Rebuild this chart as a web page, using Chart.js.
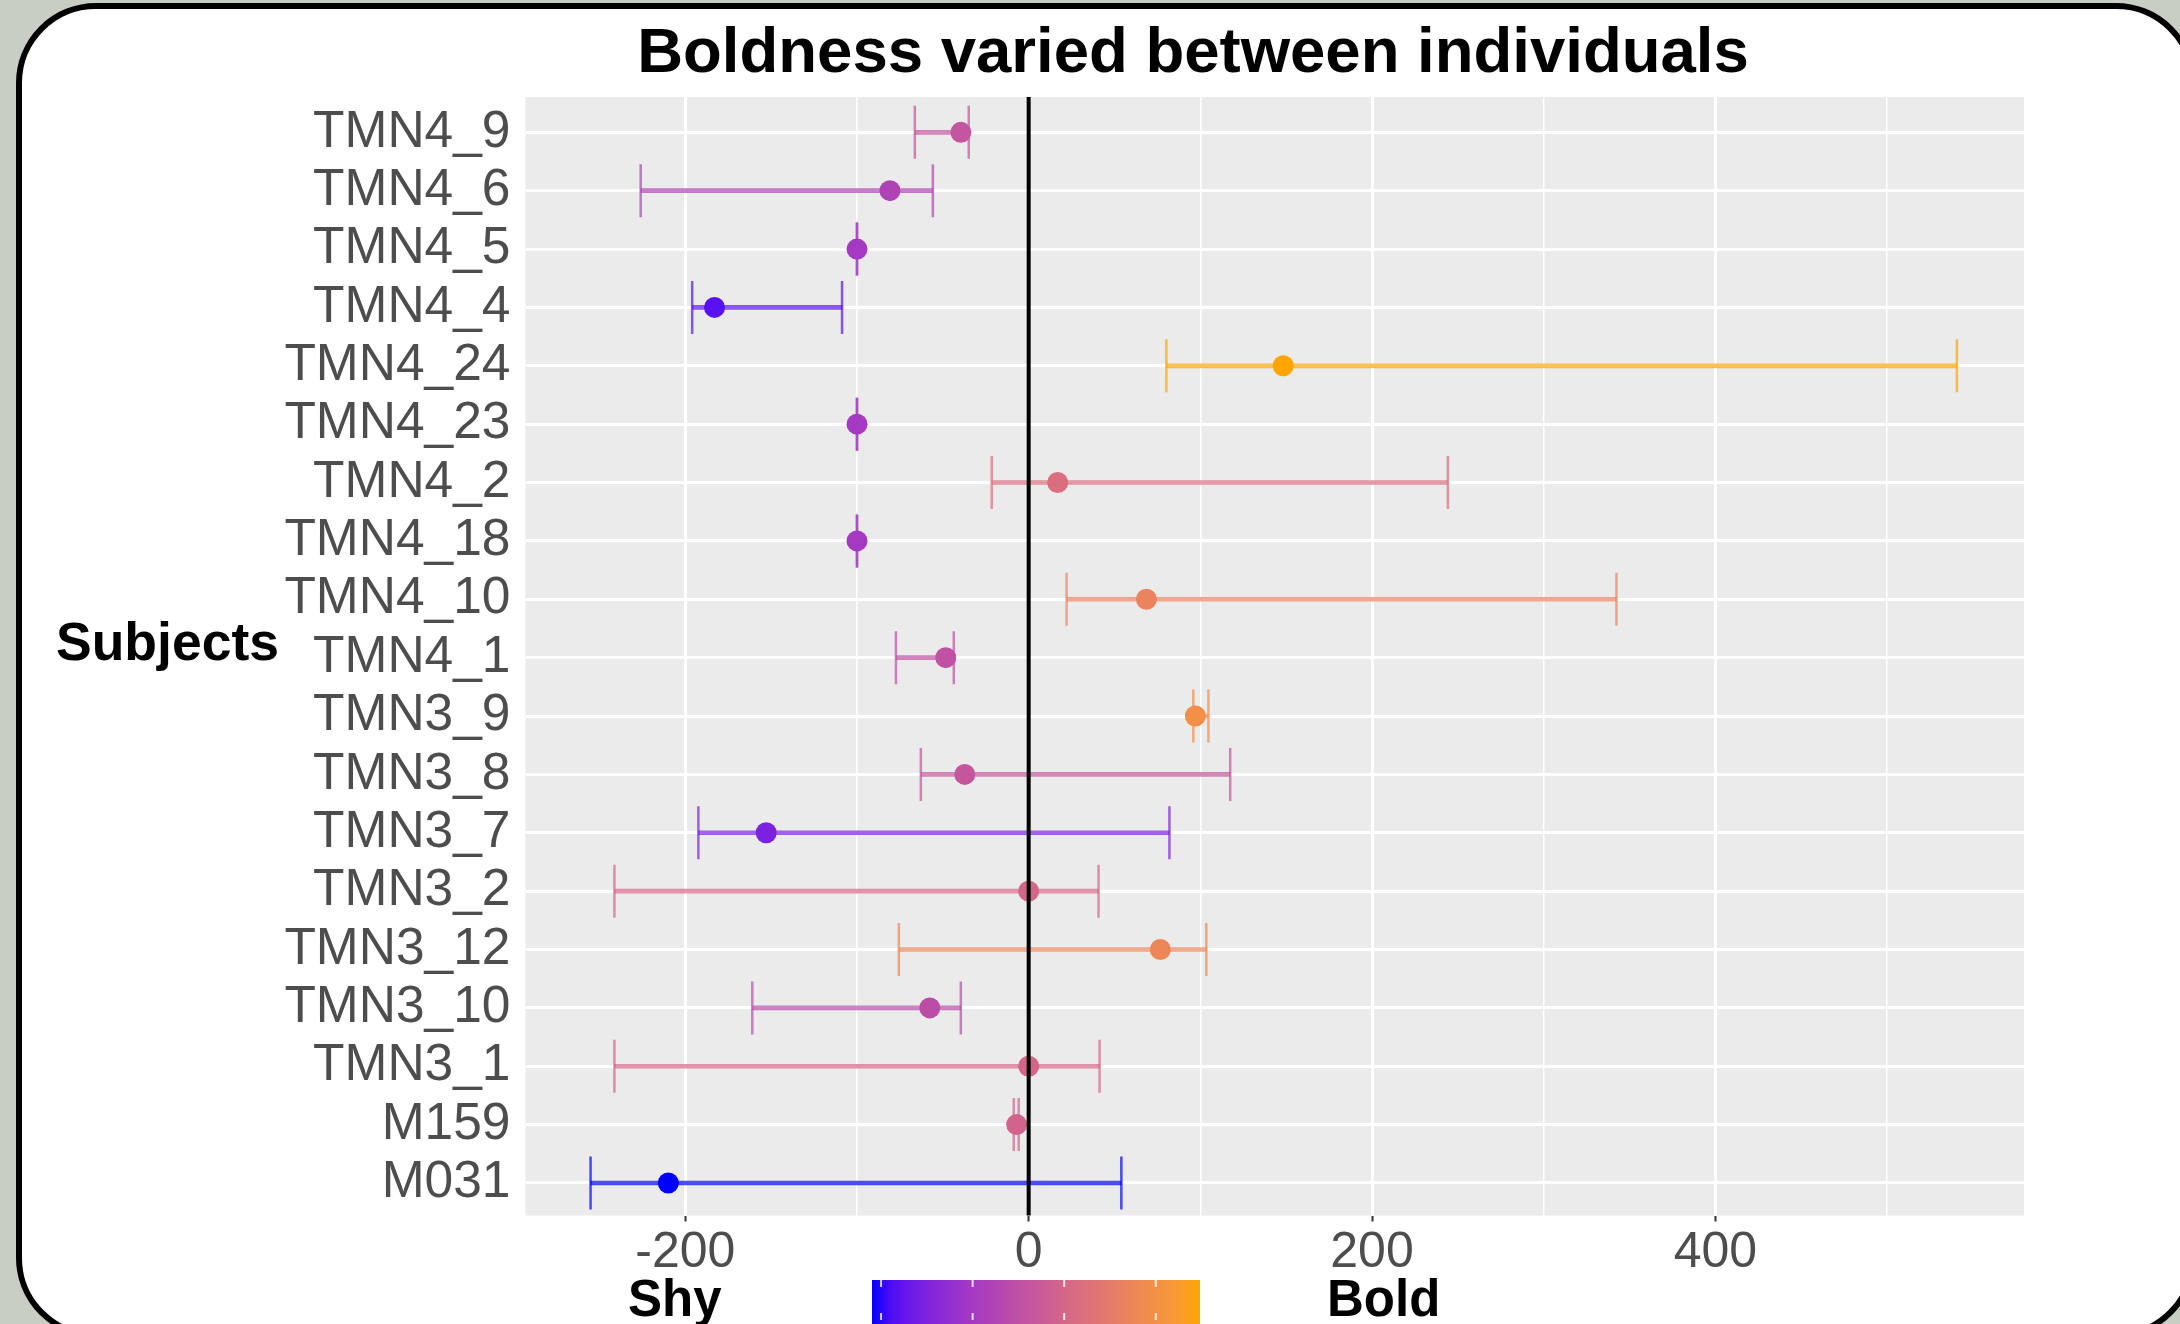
<!DOCTYPE html>
<html>
<head>
<meta charset="utf-8">
<script src="https://cdn.jsdelivr.net/npm/chart.js@4.4.1/dist/chart.umd.min.js"></script>
<style>
  html, body { margin: 0; padding: 0; }
  body { width: 2180px; height: 1324px; overflow: hidden; background: #c9cec5; position: relative; }
  #frame {
    position: absolute; left: 16px; top: 3px; width: 2180px; height: 1335px;
    box-sizing: border-box; background: #fff; border: 6px solid #000; border-radius: 80px;
  }
  #chart { position: absolute; left: 0; top: 0; }
</style>
</head>
<body>
<div id="frame"></div>
<canvas id="chart" width="2180" height="1324"></canvas>
<script>
// subjects, top to bottom
const subjects = ['TMN4_9', 'TMN4_6', 'TMN4_5', 'TMN4_4', 'TMN4_24', 'TMN4_23', 'TMN4_2', 'TMN4_18',
  'TMN4_10', 'TMN4_1', 'TMN3_9', 'TMN3_8', 'TMN3_7', 'TMN3_2', 'TMN3_12', 'TMN3_10', 'TMN3_1', 'M159', 'M031'];
const means = [-39.5, -80.8, -100, -183, 148.3, -100, 16.9, -100, 68.6, -48.3, 97.1, -37.2, -152.9, 0, 76.7, -57.6, 0, -7, -209.9];
const lower = [-66.3, -226, -100, -196, 80.2, -100, -21.5, -100, 22.1, -77.3, 95.9, -62.8, -192.4, -241.3, -75.6, -161, -241.3, -8.7, -255.2];
const upper = [-34.9, -55.8, -100, -108.7, 540.7, -100, 244.2, -100, 342.4, -43.6, 104.7, 117.4, 82, 40.7, 103.5, -39.5, 41.3, -5.8, 54];
const majorTicks = [-200, 0, 200, 400];
const minorTicks = [-100, 100, 300, 500];
const legendTicks = [-200, -100, 0, 100];

const FONT = "'Liberation Sans', Arial, sans-serif";

// --- colour ramp blue -> orange, interpolated in CIELAB like ggplot ---
function toLin(c) { c /= 255; return c <= 0.04045 ? c / 12.92 : Math.pow((c + 0.055) / 1.055, 2.4); }
function fromLin(c) {
  c = c <= 0.0031308 ? 12.92 * c : 1.055 * Math.pow(c, 1 / 2.4) - 0.055;
  return Math.round(Math.min(1, Math.max(0, c)) * 255);
}
function rgbToLab(rgb) {
  const r = toLin(rgb[0]), g = toLin(rgb[1]), b = toLin(rgb[2]);
  const X = (0.4124 * r + 0.3576 * g + 0.1805 * b) / 0.95047;
  const Y = 0.2126 * r + 0.7152 * g + 0.0722 * b;
  const Z = (0.0193 * r + 0.1192 * g + 0.9505 * b) / 1.08883;
  const f = t => t > 0.008856 ? Math.cbrt(t) : 7.787 * t + 16 / 116;
  const fx = f(X), fy = f(Y), fz = f(Z);
  return [116 * fy - 16, 500 * (fx - fy), 200 * (fy - fz)];
}
function labToRgb(lab) {
  const fy = (lab[0] + 16) / 116, fx = fy + lab[1] / 500, fz = fy - lab[2] / 200;
  const inv = t => t * t * t > 0.008856 ? t * t * t : (t - 16 / 116) / 7.787;
  const X = inv(fx) * 0.95047, Y = inv(fy), Z = inv(fz) * 1.08883;
  return [
    fromLin(3.2406 * X - 1.5372 * Y - 0.4986 * Z),
    fromLin(-0.9689 * X + 1.8758 * Y + 0.0415 * Z),
    fromLin(0.0557 * X - 0.2040 * Y + 1.0570 * Z)
  ];
}
const lowLab = rgbToLab([0, 0, 255]);
const highLab = rgbToLab([255, 165, 0]);
const cMin = Math.min(...means), cMax = Math.max(...means);
function rampColor(v, alpha) {
  const t = Math.min(1, Math.max(0, (v - cMin) / (cMax - cMin)));
  const rgb = labToRgb(lowLab.map((l, i) => l + (highLab[i] - l) * t));
  return 'rgba(' + rgb[0] + ',' + rgb[1] + ',' + rgb[2] + ',' + (alpha === undefined ? 1 : alpha) + ')';
}

const pointColors = means.map(v => rampColor(v));
const lineColors = means.map(v => rampColor(v, 0.7));

const decor = {
  id: 'decor',
  beforeDraw(chart) {
    const { ctx, chartArea: a } = chart;
    ctx.save();
    ctx.fillStyle = '#ebebeb';
    ctx.fillRect(a.left, a.top, a.right - a.left, a.bottom - a.top);
    ctx.restore();
  },
  afterDatasetsDraw(chart) {
    const { ctx, chartArea: a } = chart;
    const x0 = chart.scales.x.getPixelForValue(0);
    ctx.save();
    ctx.strokeStyle = '#000';
    ctx.lineWidth = 4;
    ctx.beginPath();
    ctx.moveTo(x0, a.top);
    ctx.lineTo(x0, a.bottom);
    ctx.stroke();
    ctx.restore();
  },
  afterDraw(chart) {
    const { ctx } = chart;
    ctx.save();
    ctx.fillStyle = '#000';
    ctx.textBaseline = 'alphabetic';
    ctx.textAlign = 'center';
    ctx.font = 'bold 63.5px ' + FONT;
    ctx.fillText('Boldness varied between individuals', 1193, 72);

    ctx.textAlign = 'left';
    ctx.font = 'bold 53.5px ' + FONT;
    ctx.fillText('Subjects', 56, 660);

    // colour bar legend
    const bx = 872, by = 1280, bw = 328, bh = 44;
    const grad = ctx.createLinearGradient(bx, 0, bx + bw, 0);
    for (let i = 0; i <= 20; i++) {
      grad.addColorStop(i / 20, rampColor(cMin + (cMax - cMin) * i / 20));
    }
    ctx.fillStyle = grad;
    ctx.fillRect(bx, by, bw, bh);
    ctx.strokeStyle = 'rgba(255,255,255,0.8)';
    ctx.lineWidth = 2;
    legendTicks.forEach(v => {
      const x = bx + (v - cMin) / (cMax - cMin) * bw;
      ctx.beginPath();
      ctx.moveTo(x, by); ctx.lineTo(x, by + 7);
      ctx.moveTo(x, by + 33); ctx.lineTo(x, by + 40);
      ctx.stroke();
    });

    ctx.fillStyle = '#000';
    ctx.font = 'bold 51px ' + FONT;
    ctx.fillText('Shy', 628, 1316);
    ctx.fillText('Bold', 1327, 1316);
    ctx.restore();
  }
};

const rows = subjects.map((s, i) => i);

new Chart(document.getElementById('chart'), {
  data: {
    datasets: [
      {
        type: 'scatter',
        order: 0,
        data: rows.map(i => ({ x: means[i], y: i })),
        pointRadius: 10.5,
        pointBackgroundColor: pointColors,
        pointBorderWidth: 0,
        pointHoverRadius: 10.5
      },
      {
        type: 'scatter',
        order: 1,
        data: rows.map(i => ({ x: lower[i], y: i })),
        pointStyle: 'line',
        pointRotation: 90,
        pointRadius: 26.5,
        pointBorderColor: lineColors,
        pointBorderWidth: 2.5
      },
      {
        type: 'scatter',
        order: 1,
        data: rows.map(i => ({ x: upper[i], y: i })),
        pointStyle: 'line',
        pointRotation: 90,
        pointRadius: 26.5,
        pointBorderColor: lineColors,
        pointBorderWidth: 2.5
      },
      {
        type: 'bar',
        order: 2,
        indexAxis: 'y',
        data: rows.map(i => ({ x: [lower[i], upper[i]], y: i })),
        backgroundColor: lineColors,
        borderWidth: 0,
        barThickness: 4
      }
    ]
  },
  options: {
    responsive: false,
    animation: false,
    layout: { padding: { left: 0, top: 97, right: 156, bottom: 0 } },
    plugins: {
      legend: { display: false },
      tooltip: { enabled: false }
    },
    scales: {
      x: {
        type: 'linear',
        min: -293.1,
        max: 579.8,
        offset: false,
        afterBuildTicks: s => { s.ticks = majorTicks.concat(minorTicks).sort((a, b) => a - b).map(v => ({ value: v })); },
        afterFit: s => { s.height = 108.5; },
        border: { display: false },
        grid: {
          offset: false,
          color: '#ffffff',
          lineWidth: c => majorTicks.includes(c.tick.value) ? 3 : 1.5,
          tickColor: c => majorTicks.includes(c.tick.value) ? '#333333' : 'rgba(0,0,0,0)',
          tickLength: 6,
          tickWidth: 2
        },
        ticks: {
          color: '#4d4d4d',
          padding: 2,
          font: { family: FONT, size: 50 },
          maxRotation: 0,
          autoSkip: false,
          callback: v => majorTicks.includes(v) ? String(v) : ''
        }
      },
      y: {
        type: 'linear',
        reverse: true,
        min: -0.605,
        max: 18.557,
        offset: false,
        afterBuildTicks: s => { s.ticks = rows.map(i => ({ value: i })); },
        afterFit: s => { s.width = 525.5; },
        border: { display: false },
        grid: {
          offset: false,
          color: '#ffffff',
          lineWidth: 3,
          tickColor: 'rgba(0,0,0,0)',
          tickLength: 6,
          tickWidth: 2
        },
        ticks: {
          color: '#4d4d4d',
          padding: 9,
          autoSkip: false,
          font: { family: FONT, size: 51.5 },
          callback: v => subjects[v]
        }
      }
    }
  },
  plugins: [decor]
});
</script>
</body>
</html>
